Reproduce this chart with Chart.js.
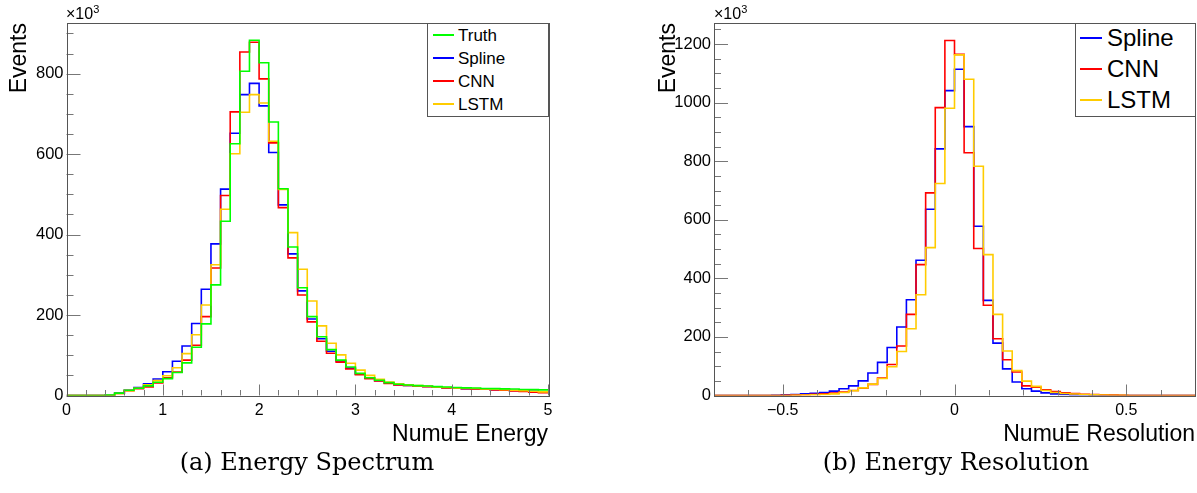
<!DOCTYPE html>
<html>
<head>
<meta charset="utf-8">
<script src="https://cdn.jsdelivr.net/npm/chart.js@4.4.1/dist/chart.umd.min.js"></script>
<style>
  body { margin: 0; background: #fff; width: 1197px; height: 493px; overflow: hidden; position: relative; font-family: 'Liberation Sans', Arial, sans-serif; }
  canvas { position: absolute; top: 0; }
  #energyCanvas { left: 0; }
  #resCanvas { left: 600px; }
  .legend { position: absolute; background: #fff; border: 1px solid #555; box-sizing: border-box; }
  .legend .swatch { position: absolute; height: 2px; }
  .legend .name { position: absolute; line-height: 1; white-space: nowrap; color: #000; }
  .exp { position: absolute; font-size: 16px; color: #000; white-space: nowrap; }
  .exp sup { font-size: 11px; vertical-align: 6px; }
  .caption { position: absolute; font-family: 'DejaVu Serif', serif; font-size: 24px; transform: translateX(-50%); white-space: nowrap; color: #000; }
</style>
</head>
<body>
<canvas id="energyCanvas" width="600" height="452"></canvas>
<canvas id="resCanvas" width="597" height="452"></canvas>
<div class="exp" style="left:66px; top:3px;">×10<sup>3</sup></div>
<div class="exp" style="left:714px; top:3px;">×10<sup>3</sup></div>
<div class="caption" style="left:307px; top:448px;">(a) Energy Spectrum</div>
<div class="caption" style="left:956px; top:448px;">(b) Energy Resolution</div>
<script>
// ---- left panel: NumuE energy spectrum, 50 bins on [0, 5], values in 10^3 events
let energyRange = [0, 5];
let energyTicks = [0, 1, 2, 3, 4, 5];
let energyYTicks = [0, 200, 400, 600, 800];

let energyTruth = [0, 0, 0, 0, 1, 6, 13, 18, 24, 33,
    42, 57, 81, 120, 178, 275, 433, 626, 806, 883,
    827, 680, 514, 369, 268, 196, 146, 114, 88, 71,
    55, 44, 38, 32, 28, 26, 24.5, 23.5, 22, 21,
    20, 19, 18.5, 17.5, 17, 16.5, 16, 15, 14.5, 14];
let energySpline = [0, 0, 0, 0, 0, 6, 13, 20, 29, 41,
    59, 85, 123, 179, 264, 377, 513, 652, 748, 776,
    720, 604, 474, 352, 260, 190, 141, 110, 86, 68,
    53, 43, 37, 31, 27, 25, 23.5, 22.5, 21, 19,
    18, 17, 16.5, 16, 14.5, 13.5, 12.5, 11.5, 10.5, 9.5];
let energyCNN = [0, 0, 0, 0, 0, 5, 12, 17, 21.5, 31,
    44, 58, 88, 125, 196, 317, 497, 705, 854, 878,
    787, 628, 467, 342, 250, 183, 135, 105, 83, 66,
    52, 42, 36, 30, 26.5, 25, 23, 22, 20.5, 19,
    18, 17, 16.5, 15.5, 14, 13, 11.5, 10, 8.5, 7];
let energyLSTM = [0, 0, 0, 0, 0, 5, 12, 18, 26.5, 37,
    49, 69, 104, 151, 225, 325, 463, 601, 704, 748,
    727, 632, 512, 405, 314, 235, 173, 130, 101, 80,
    63, 50, 40, 33.5, 29, 26.8, 24.5, 23, 21.5, 20,
    19, 18.5, 17.5, 16.5, 15.5, 14.5, 13, 12, 10.5, 9];

// ---- right panel: NumuE resolution, 50 bins on [-0.7, 0.7], values in 10^3 events
let resRange = [-0.7, 0.7];
let resTicks = [-0.5, 0, 0.5];
let resYTicks = [0, 200, 400, 600, 800, 1000, 1200];

let resSpline = [0, 0, 0, 0, 0, 0, 1, 2, 3.5, 5.5,
    7.5, 10, 15, 23, 33, 50, 77, 113, 164, 234,
    327, 462, 636, 842, 1041, 1114, 918, 578, 325, 179,
    91, 46, 23, 15, 9, 5.5, 3.5, 2, 1.5, 1,
    0.5, 0, 0, 0, 0, 0, 0, 0, 0, 0];
let resCNN = [0, 0, 0, 0, 0, 0, 0, 0.5, 1.5, 2.5,
    4, 5.5, 8, 12, 17, 25, 38, 60, 106, 169,
    277, 447, 692, 983, 1212, 1165, 829, 502, 308, 194,
    122, 80, 33, 28, 19.5, 13.5, 9, 7, 4.5, 3.5,
    2.5, 1.5, 0.5, 0, 0, 0, 0, 0, 0, 0];
let resLSTM = [0, 0, 0, 0, 0, 0, 0, 0, 0.5, 1.5,
    2.5, 3.5, 5.5, 10, 16, 26, 39, 58, 98, 150,
    228, 344, 505, 724, 981, 1163, 1080, 783, 481, 277,
    152, 85, 49, 31, 17, 10, 7, 5, 3.5, 2,
    1.5, 1, 0.5, 0, 0, 0, 0, 0, 0, 0];

let GREEN = '#00ff00', BLUE = '#0000ff', RED = '#ff0000', GOLD = '#ffcc00';
let FONT = "'Liberation Sans', Arial, sans-serif";

// left edge of every bin plus the closing edge, drawn as a step line
let histPoints = function (range, values) {
    let w = (range[1] - range[0]) / values.length;
    let pts = values.map((v, i) => ({ x: range[0] + i * w, y: v }));
    pts.push({ x: range[1], y: values[values.length - 1] });
    return pts;
};

// chart.js paints dataset 0 last, so the first entry ends up on top
let histSet = function (label, range, values, color) {
    return {
        label: label,
        data: histPoints(range, values),
        borderColor: color,
        borderWidth: 1.6,
        stepped: 'before',
        pointRadius: 0,
        fill: false
    };
};

// ROOT style frame with inward ticks
let rootFrame = {
    id: 'rootFrame',
    afterDatasetsDraw(chart, args, o) {
        let ctx = chart.ctx, a = chart.chartArea;
        let x = chart.scales.x, y = chart.scales.y;
        ctx.save();
        ctx.lineWidth = 1;
        ctx.strokeStyle = '#777';
        ctx.beginPath();
        for (let i = Math.ceil(x.min / o.xMinor - 1e-6); i * o.xMinor <= x.max + 1e-9; i++) {
            let v = i * o.xMinor;
            let major = Math.abs(v / o.xMajor - Math.round(v / o.xMajor)) < 1e-6;
            let px = Math.round(x.getPixelForValue(v)) + 0.5;
            ctx.moveTo(px, a.bottom);
            ctx.lineTo(px, a.bottom - (major ? 11 : 5.5));
        }
        for (let i = 0; i * o.yMinor <= y.max; i++) {
            let v = i * o.yMinor;
            let major = v % o.yMajor === 0;
            let py = Math.round(y.getPixelForValue(v)) + 0.5;
            ctx.moveTo(a.left, py);
            ctx.lineTo(a.left + (major ? 14 : 7), py);
        }
        ctx.stroke();
        ctx.strokeStyle = '#555';
        ctx.strokeRect(Math.round(a.left) + 0.5, Math.round(a.top) + 0.5,
            Math.round(a.right - a.left), Math.round(a.bottom - a.top));
        ctx.restore();
    }
};

let fmt = function (v) {
    return v < 0 ? '\u2212' + String(-v) : String(v);
};

let makeChart = function (id, cfg) {
    let ctx = document.getElementById(id).getContext('2d');
    return new Chart(ctx, {
        type: 'line',
        data: { datasets: cfg.datasets },
        plugins: [rootFrame],
        options: {
            responsive: false,
            animation: false,
            devicePixelRatio: 1,
            layout: { padding: { left: 0, top: 23, right: cfg.padRight, bottom: 0 } },
            plugins: {
                legend: { display: false },
                tooltip: { enabled: false },
                rootFrame: cfg.frame
            },
            scales: {
                x: {
                    type: 'linear',
                    min: cfg.range[0],
                    max: cfg.range[1],
                    grid: { display: false, drawTicks: false },
                    border: { display: false },
                    afterBuildTicks: s => { s.ticks = cfg.xTicks.map(v => ({ value: v })); },
                    afterFit: s => { s.height = cfg.xHeight; },
                    ticks: {
                        padding: 7,
                        maxRotation: 0,
                        autoSkip: false,
                        color: '#000',
                        font: { family: FONT, size: 16, lineHeight: 1 },
                        callback: v => fmt(v)
                    },
                    title: {
                        display: true,
                        text: cfg.xTitle,
                        align: 'end',
                        color: '#000',
                        font: { family: FONT, size: 23, lineHeight: 1 },
                        padding: { top: 0, bottom: 6 }
                    }
                },
                y: {
                    type: 'linear',
                    min: 0,
                    max: cfg.yMax,
                    grid: { display: false, drawTicks: false },
                    border: { display: false },
                    afterBuildTicks: s => { s.ticks = cfg.yTicks.map(v => ({ value: v })); },
                    afterFit: s => { s.width = cfg.yWidth; },
                    ticks: {
                        padding: 3,
                        color: '#000',
                        font: { family: FONT, size: 16.5, lineHeight: 1 },
                        callback: v => String(v)
                    },
                    title: {
                        display: true,
                        text: 'Events',
                        align: 'end',
                        color: '#000',
                        font: { family: FONT, size: 23, lineHeight: 1 },
                        padding: { top: cfg.yTitlePad, bottom: 0 }
                    }
                }
            }
        }
    });
};

let makeLegend = function (box, names, colors) {
    let div = document.createElement('div');
    div.className = 'legend';
    div.style.left = box.left + 'px';
    div.style.top = box.top + 'px';
    div.style.width = box.width + 'px';
    div.style.height = box.height + 'px';
    names.forEach((n, i) => {
        let cy = box.first + i * box.step;
        let sw = document.createElement('div');
        sw.className = 'swatch';
        sw.style.left = box.swLeft + 'px';
        sw.style.width = box.swWidth + 'px';
        sw.style.top = (cy - 1) + 'px';
        sw.style.background = colors[i];
        let t = document.createElement('div');
        t.className = 'name';
        t.textContent = n;
        t.style.left = box.textLeft + 'px';
        t.style.top = (cy - box.font * 0.5) + 'px';
        t.style.fontSize = box.font + 'px';
        div.appendChild(sw);
        div.appendChild(t);
    });
    document.body.appendChild(div);
};

window.onload = function () {
    makeChart('energyCanvas', {
        datasets: [
            histSet('Truth', energyRange, energyTruth, GREEN),
            histSet('LSTM', energyRange, energyLSTM, GOLD),
            histSet('CNN', energyRange, energyCNN, RED),
            histSet('Spline', energyRange, energySpline, BLUE)
        ],
        range: energyRange,
        xTicks: energyTicks,
        yTicks: energyYTicks,
        yMax: 926,
        xTitle: 'NumuE Energy',
        padRight: 52,
        xHeight: 56.5,
        yWidth: 66.5,
        yTitlePad: 8.5,
        frame: { xMajor: 1, xMinor: 0.2, yMajor: 200, yMinor: 50 }
    });
    makeChart('resCanvas', {
        datasets: [
            histSet('LSTM', resRange, resLSTM, GOLD),
            histSet('CNN', resRange, resCNN, RED),
            histSet('Spline', resRange, resSpline, BLUE)
        ],
        range: resRange,
        xTicks: resTicks,
        yTicks: resYTicks,
        yMax: 1272,
        xTitle: 'NumuE Resolution',
        padRight: 2,
        xHeight: 56.5,
        yWidth: 114,
        yTitlePad: 57.5,
        frame: { xMajor: 0.5, xMinor: 0.1, yMajor: 200, yMinor: 50 }
    });
    makeLegend({ left: 427, top: 23, width: 122, height: 94, first: 11, step: 23,
        swLeft: 5, swWidth: 21, textLeft: 30, font: 17 },
        ['Truth', 'Spline', 'CNN', 'LSTM'], [GREEN, BLUE, RED, GOLD]);
    makeLegend({ left: 1075, top: 23, width: 121, height: 94, first: 14, step: 31,
        swLeft: 4, swWidth: 22, textLeft: 31, font: 24 },
        ['Spline', 'CNN', 'LSTM'], [BLUE, RED, GOLD]);
};
</script>
</body>
</html>
